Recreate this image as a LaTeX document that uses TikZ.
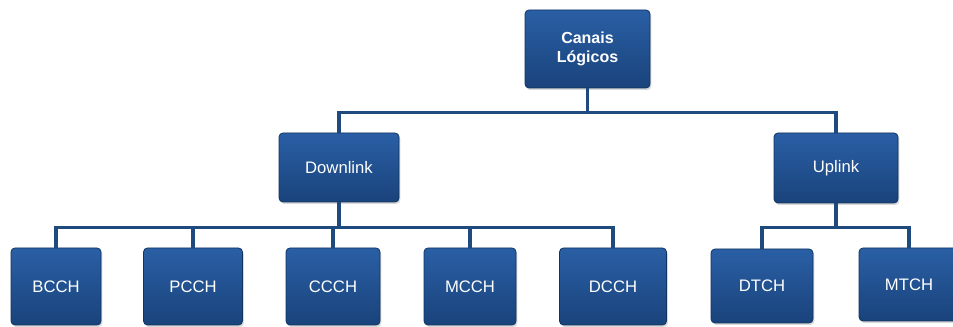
\documentclass[tikz,border=0pt]{standalone}
\usepackage{fontspec}
\setmainfont{Liberation Sans}
\usetikzlibrary{shadows}
\definecolor{boxblue}{HTML}{1D4C8C}
\definecolor{boxtop}{HTML}{2A5FA5}
\definecolor{boxedge}{HTML}{0F3462}
\definecolor{linkblue}{HTML}{1F4A7E}
\tikzset{
  chbox/.style={rectangle, rounded corners=3pt, top color=boxtop, bottom color=boxblue!88!black,
    draw=boxedge, line width=0.6pt, text=white, font=\fontsize{12.5}{14}\selectfont,
    align=center, inner sep=2pt, drop shadow={opacity=0.3, shadow xshift=1pt, shadow yshift=-1.5pt}},
  link/.style={draw=linkblue, line width=2.3pt}
}
\begin{document}
\begin{tikzpicture}[x=0.75pt, y=-0.75pt]
\useasboundingbox (0,0) rectangle (953,327);
\clip (0,0) rectangle (953,327);
% root
\node[chbox, minimum width=93.75pt, minimum height=58.5pt, font=\bfseries\fontsize{12}{14}\selectfont] (canais) at (587.5,49) {Canais\\Lógicos};
% second level
\node[chbox, minimum width=90pt, minimum height=51.75pt] (down) at (339,167.5) {Downlink};
\node[chbox, minimum width=93pt, minimum height=52.5pt] (up) at (836,168) {Uplink};
% leaves
\node[chbox, minimum width=67.5pt, minimum height=57.75pt] (bcch) at (56,286.5) {BCCH};
\node[chbox, minimum width=74.25pt, minimum height=57.75pt] (pcch) at (193,286.5) {PCCH};
\node[chbox, minimum width=70.5pt, minimum height=57.75pt] (ccch) at (333,286.5) {CCCH};
\node[chbox, minimum width=69pt, minimum height=57.75pt] (mcch) at (470,286.5) {MCCH};
\node[chbox, minimum width=80.25pt, minimum height=57.75pt] (dcch) at (613,286.5) {DCCH};
\node[chbox, minimum width=76.5pt, minimum height=55.5pt] (dtch) at (762,286) {DTCH};
\node[chbox, minimum width=75pt, minimum height=54.75pt] (mtch) at (909,284.5) {MTCH};
% connectors
\draw[link] (canais.south) -- ++(0,24) -| (down.north);
\draw[link] (canais.south) -- ++(0,24) -| (up.north);
\foreach \n in {bcch,pcch,ccch,mcch,dcch}
  \draw[link] (down.south) -- ++(0,25) -| (\n.north);
\foreach \n in {dtch,mtch}
  \draw[link] (up.south) -- ++(0,24) -| (\n.north);
\end{tikzpicture}
\end{document}
